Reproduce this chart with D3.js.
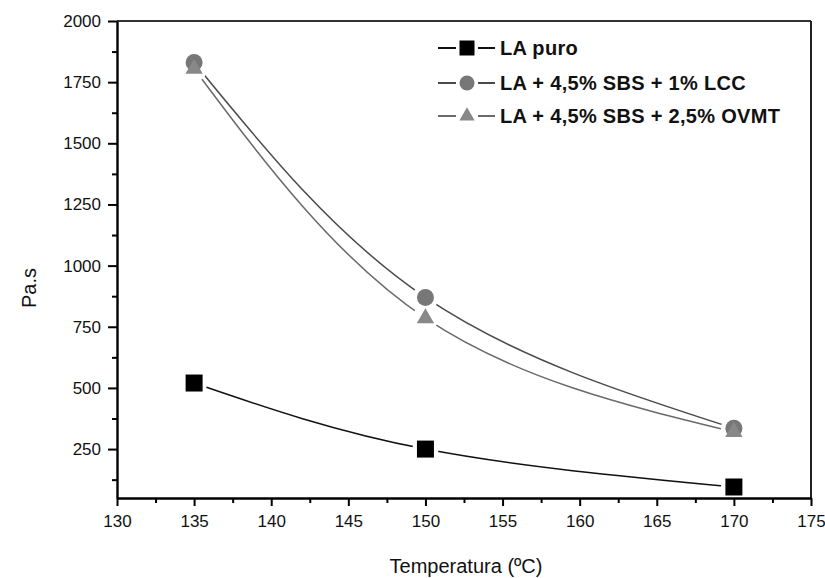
<!DOCTYPE html>
<html>
<head>
<meta charset="utf-8">
<script src="https://cdn.jsdelivr.net/npm/d3@7"></script>
<style>
  body { margin: 0; background: #fff; }
  text { font-family: "Liberation Sans", Arial, sans-serif; }
</style>
</head>
<body>
<div id="container"></div>
<script>
// temperatures (ºC) and viscosity (Pa.s)
let temps = [135, 150, 170];
let laPuro = [520, 250, 95];
let laLCC = [1830, 870, 335];
let laOVMT = [1805, 785, 320];
let seriesNames = ["LA puro", "LA + 4,5% SBS + 1% LCC", "LA + 4,5% SBS + 2,5% OVMT"];
let xTicks = [130, 135, 140, 145, 150, 155, 160, 165, 170, 175];
let yTicks = [250, 500, 750, 1000, 1250, 1500, 1750, 2000];

let w = 825;
let h = 578;
let plotLeft = 117, plotRight = 811, plotTop = 21, plotBottom = 498;

let viz = d3.select("#container")
  .append("svg")
    .attr("width", w)
    .attr("height", h)
    .style("background-color", "white");

let x = d3.scaleLinear().domain([130, 175]).range([plotLeft, plotRight]);
let y = d3.scaleLinear().domain([50, 2000]).range([plotBottom, plotTop]);

// series: values, line colour, marker type, marker colour
let series = [
  { name: seriesNames[0], values: laPuro, line: "#111", marker: "square", fill: "#000" },
  { name: seriesNames[1], values: laLCC, line: "#4a4a4a", marker: "circle", fill: "#777" },
  { name: seriesNames[2], values: laOVMT, line: "#6a6a6a", marker: "triangle", fill: "#888" }
];

function symbolFor(type, size) {
  if (type == "square") return d3.symbol().type(d3.symbolSquare).size(size * size)();
  if (type == "circle") return d3.symbol().type(d3.symbolCircle).size(Math.PI * size * size / 4)();
  return d3.symbol().type(d3.symbolTriangle).size(size * size * 0.45)();
}

// lines
let lineGen = d3.line()
  .x(function(d) { return x(d[0]); })
  .y(function(d) { return y(d[1]); })
  .curve(d3.curveNatural);

series.forEach(function(s) {
  let pts = temps.map(function(t, i) { return [t, s.values[i]]; });
  viz.append("path")
    .attr("d", lineGen(pts))
    .attr("fill", "none")
    .attr("stroke", s.line)
    .attr("stroke-width", 1.5);
});

// white gaps round the markers
series.forEach(function(s) {
  viz.selectAll(null).data(temps).enter()
    .append("circle")
      .attr("cx", function(d) { return x(d); })
      .attr("cy", function(d, i) { return y(s.values[i]); })
      .attr("r", 13)
      .attr("fill", "white");
});

// markers
series.forEach(function(s) {
  viz.selectAll(null).data(temps).enter()
    .append("path")
      .attr("d", symbolFor(s.marker, 17))
      .attr("transform", function(d, i) { return "translate(" + x(d) + "," + y(s.values[i]) + ")"; })
      .attr("fill", s.fill);
});

// frame
viz.append("line").attr("x1", plotLeft).attr("x2", plotRight).attr("y1", plotTop).attr("y2", plotTop)
  .attr("stroke", "#333").attr("stroke-width", 2);
viz.append("line").attr("x1", plotRight).attr("x2", plotRight).attr("y1", plotTop).attr("y2", plotBottom)
  .attr("stroke", "#222").attr("stroke-width", 2);

// axes
let xAxis = viz.append("g")
  .attr("transform", "translate(0," + plotBottom + ")")
  .call(d3.axisBottom(x).tickValues(xTicks).tickFormat(d3.format("d"))
    .tickSize(8).tickPadding(9).tickSizeOuter(0));
let xMinor = viz.append("g")
  .attr("transform", "translate(0," + plotBottom + ")")
  .call(d3.axisBottom(x).tickValues(xTicks.slice(0, -1).map(function(t) { return t + 2.5; }))
    .tickSize(5).tickFormat("").tickSizeOuter(0));

let yAxis = viz.append("g")
  .attr("transform", "translate(" + plotLeft + ",0)")
  .call(d3.axisLeft(y).tickValues(yTicks).tickFormat(d3.format("d"))
    .tickSize(9).tickPadding(7).tickSizeOuter(0));
let yMinor = viz.append("g")
  .attr("transform", "translate(" + plotLeft + ",0)")
  .call(d3.axisLeft(y).tickValues([125].concat(yTicks.slice(0, -1).map(function(t) { return t + 125; })))
    .tickSize(5).tickFormat("").tickSizeOuter(0));

[xAxis, xMinor, yAxis, yMinor].forEach(function(g) {
  g.selectAll("path").attr("stroke", "#000").attr("stroke-width", 2.4);
  g.selectAll("line").attr("stroke", "#000").attr("stroke-width", 2);
  g.selectAll("text").attr("fill", "#111").style("font-size", "17px")
    .style("font-family", "'Liberation Sans', Arial, sans-serif");
});
xMinor.select(".domain").remove();
yMinor.select(".domain").remove();

// axis titles
viz.append("text")
  .attr("x", 466).attr("y", 573)
  .attr("text-anchor", "middle")
  .style("font-size", "20px")
  .attr("fill", "#111")
  .text("Temperatura (ºC)");

viz.append("text")
  .attr("transform", "translate(36,288) rotate(-90)")
  .attr("text-anchor", "middle")
  .style("font-size", "20px")
  .attr("fill", "#111")
  .text("Pa.s");

// legend
let legendY = [48, 83, 116];
let legend = viz.selectAll(".legend").data(series).enter()
  .append("g")
    .attr("class", "legend")
    .attr("transform", function(d, i) { return "translate(0," + legendY[i] + ")"; });

legend.append("line")
  .attr("x1", 438).attr("x2", 495).attr("y1", 0).attr("y2", 0)
  .attr("stroke", function(d) { return d.line; })
  .attr("stroke-width", 2);
legend.append("rect")
  .attr("x", 456).attr("y", -9).attr("width", 22).attr("height", 18)
  .attr("fill", "white");
legend.append("path")
  .attr("d", function(d) { return symbolFor(d.marker, 15); })
  .attr("transform", "translate(467,0)")
  .attr("fill", function(d) { return d.fill; });
legend.append("text")
  .attr("x", 500).attr("y", 7)
  .style("font-size", "20px")
  .style("font-weight", "bold")
  .style("letter-spacing", "0.3px")
  .attr("fill", "#111")
  .text(function(d) { return d.name; });
</script>
</body>
</html>
